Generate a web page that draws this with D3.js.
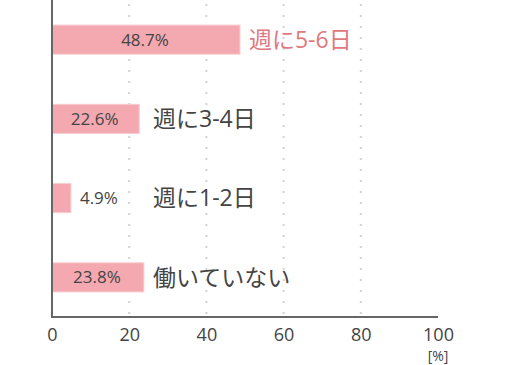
<!DOCTYPE html>
<html lang="ja">
<head>
<meta charset="UTF-8">
<title>chart</title>
<style>
  body { margin: 0; background: #fff; }
  text { font-family: "Open Sans", "Noto Sans CJK JP", sans-serif; }
</style>
</head>
<body>
<div id="root"></div>
<script src="https://d3js.org/d3.v7.min.js"></script>
<script>
// data
const categories = ['週に5-6日', '週に3-4日', '週に1-2日', '働いていない']
const values = [48.7, 22.6, 4.9, 23.8]
const highlight = ['週に5-6日']
const ticks = [0, 20, 40, 60, 80, 100]
const unitLabel = '[%]'

const W = 516, H = 365
const margin = {top: 0, right: 78, bottom: 48, left: 52}
const width = W - margin.left - margin.right
const height = H - margin.top - margin.bottom

const svg = d3.select('#root').append('svg')
  .attr('width', W)
  .attr('height', H)

const g = svg.append('g')
  .attr('transform', `translate(${margin.left},${margin.top})`)

const x = d3.scaleLinear().domain([0, 100]).range([0, width])
const y = d3.scaleBand().domain(categories).range([0, height]).paddingInner(0.62).paddingOuter(0.31)

// dotted grid
g.append('g').selectAll('line')
  .data(ticks.filter(t => t > 0 && t < 100))
  .join('line')
  .attr('x1', d => x(d)).attr('x2', d => x(d))
  .attr('y1', 4).attr('y2', height)
  .attr('stroke', '#d2d2d2')
  .attr('stroke-width', 2)
  .attr('stroke-dasharray', '2,9')

// bars
const rows = categories.map((c, i) => ({cat: c, val: values[i]}))

g.append('g').selectAll('rect')
  .data(rows)
  .join('rect')
  .attr('x', 0.5)
  .attr('y', d => y(d.cat) + 0.5)
  .attr('width', d => x(d.val) - 0.5)
  .attr('height', y.bandwidth() - 1)
  .attr('fill', '#f4a8af')
  .attr('stroke', '#f9cdd1')
  .attr('stroke-width', 1)

// value labels
g.append('g').selectAll('text')
  .data(rows)
  .join('text')
  .attr('x', d => x(d.val) > 60 ? x(d.val) / 2 - 1 : x(d.val) + 9)
  .attr('y', d => y(d.cat) + y.bandwidth() / 2)
  .attr('dy', '0.36em')
  .attr('text-anchor', d => x(d.val) > 60 ? 'middle' : 'start')
  .attr('font-size', 17)
  .attr('fill', '#444')
  .text(d => d.val.toFixed(1) + '%')

// category labels
g.append('g').selectAll('text')
  .data(rows)
  .join('text')
  .attr('x', d => Math.max(x(d.val), 92) + 9)
  .attr('y', d => y(d.cat) + y.bandwidth() / 2)
  .attr('dy', '0.36em')
  .attr('font-size', 23)
  .attr('fill', d => highlight.includes(d.cat) ? '#e07880' : '#444')
  .text(d => d.cat)

// axes
g.append('line')
  .attr('x1', 0).attr('x2', 0)
  .attr('y1', 0).attr('y2', height)
  .attr('stroke', '#666').attr('stroke-width', 2)

g.append('line')
  .attr('x1', -1).attr('x2', width)
  .attr('y1', height).attr('y2', height)
  .attr('stroke', '#666').attr('stroke-width', 2)

const xAxis = g.append('g')
  .attr('transform', `translate(0,${height})`)
  .call(d3.axisBottom(x).tickValues(ticks).tickSize(0).tickPadding(11))
xAxis.select('.domain').remove()
xAxis.selectAll('text')
  .attr('font-size', 18)
  .attr('fill', '#444')
  .attr('font-family', '"Open Sans", sans-serif')

g.append('text')
  .attr('x', x(100))
  .attr('y', height + 44)
  .attr('text-anchor', 'middle')
  .attr('font-size', 14)
  .attr('fill', '#444')
  .text(unitLabel)
</script>
</body>
</html>
